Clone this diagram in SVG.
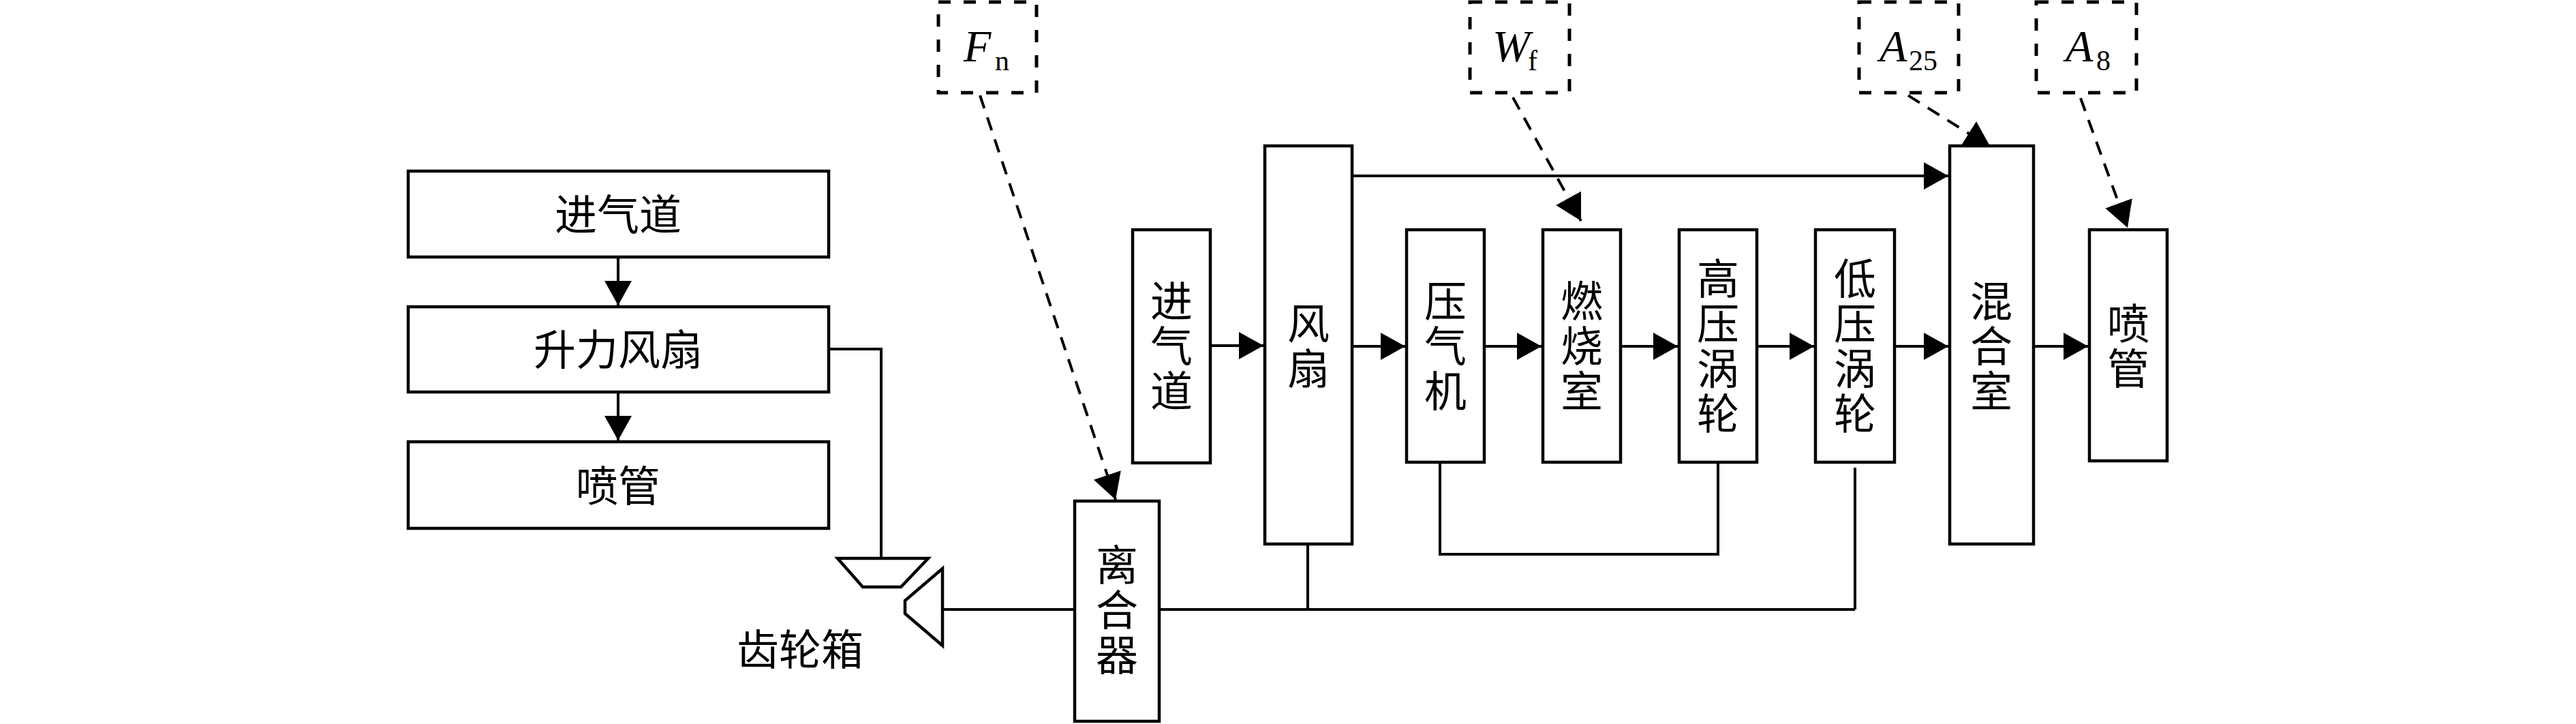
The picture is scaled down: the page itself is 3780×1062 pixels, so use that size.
<svg xmlns="http://www.w3.org/2000/svg" width="3780" height="1062" viewBox="0 0 3780 1062">
<style>
.box{fill:#fff;stroke:#000;stroke-width:4.5}
.dbox{fill:none;stroke:#000;stroke-width:5;stroke-dasharray:18 19}
.ln{fill:none;stroke:#000;stroke-width:4}
.ar{fill:none;stroke:#000;stroke-width:4;marker-end:url(#ah)}
.da{fill:none;stroke:#000;stroke-width:4;stroke-dasharray:20 14;marker-end:url(#dh)}
.cj{font-family:"Noto Sans CJK SC",sans-serif;font-size:62px;fill:#000;text-anchor:middle}
.mt{font-family:"Liberation Serif",serif;fill:#000}
.mi{font-style:italic;font-size:66px}
.sb{font-style:normal;font-size:42px}
</style>
<defs>
<marker id="ah" markerUnits="userSpaceOnUse" markerWidth="40" markerHeight="42" refX="36" refY="20" orient="auto" viewBox="0 0 40 42">
<path d="M0,0 L36,20 L0,40 Z" fill="#000"/>
</marker>
<marker id="dh" markerUnits="userSpaceOnUse" markerWidth="42" markerHeight="44" refX="38" refY="21" orient="auto" viewBox="0 0 42 44">
<path d="M0,0 L38,21 L0,42 Z" fill="#000"/>
</marker>
</defs>
<rect width="3780" height="1062" fill="#fff"/>

<g id="connectors">
<line class="ar" x1="907" y1="377" x2="907" y2="448"/>
<line class="ar" x1="907" y1="575" x2="907" y2="646"/>
<polyline class="ln" points="1216,512 1293,512 1293,819"/>
<line class="ln" x1="1383" y1="894" x2="1577" y2="894"/>
<line class="ln" x1="1701" y1="894" x2="2722" y2="894"/>
<line class="ln" x1="1919" y1="798" x2="1919" y2="894"/>
<line class="ln" x1="2722" y1="686" x2="2722" y2="894"/>
<polyline class="ln" points="2113,678 2113,813 2521,813 2521,678"/>
<line class="ar" x1="1776" y1="507" x2="1854" y2="507"/>
<line class="ar" x1="1984" y1="508" x2="2062" y2="508"/>
<line class="ar" x1="2178" y1="508" x2="2262" y2="508"/>
<line class="ar" x1="2378" y1="508" x2="2462" y2="508"/>
<line class="ar" x1="2578" y1="508" x2="2662" y2="508"/>
<line class="ar" x1="2780" y1="508" x2="2859" y2="508"/>
<line class="ar" x1="2984" y1="508" x2="3064" y2="508"/>
<line class="ar" x1="1984" y1="258" x2="2859" y2="258"/>
<line class="da" x1="1438" y1="140" x2="1637" y2="733"/>
<line class="da" x1="2220" y1="143" x2="2320" y2="324"/>
<line class="da" x1="3053" y1="144" x2="3122" y2="334"/>
<line class="da" x1="2800" y1="140" x2="2921" y2="216"/>
</g>

<g id="gearbox">
<polygon class="box" points="1229,819 1362,819 1322,861 1266,861"/>
<polygon class="box" points="1383,834 1328,881 1328,900 1383,947"/>
<text class="cj" x="1174" y="976">齿轮箱</text>
</g>

<g id="lift-inlet"><rect class="box" x="599" y="251" width="617" height="126"/><text class="cj" x="907" y="338">进气道</text></g>
<g id="lift-fan"><rect class="box" x="599" y="450" width="617" height="125"/><text class="cj" x="907" y="536">升力风扇</text></g>
<g id="lift-nozzle"><rect class="box" x="599" y="648" width="617" height="127"/><text class="cj" x="907" y="736">喷管</text></g>

<g id="clutch"><rect class="box" x="1577" y="735" width="124" height="323"/>
<text class="cj"><tspan x="1639" y="852">离</tspan><tspan x="1639" y="918">合</tspan><tspan x="1639" y="984">器</tspan></text></g>

<g id="inlet"><rect class="box" x="1662" y="337" width="114" height="342"/>
<text class="cj"><tspan x="1719" y="465">进</tspan><tspan x="1719" y="531">气</tspan><tspan x="1719" y="597">道</tspan></text></g>
<g id="fan"><rect class="box" x="1856" y="214" width="128" height="584"/>
<text class="cj"><tspan x="1920" y="498">风</tspan><tspan x="1920" y="564">扇</tspan></text></g>
<g id="compressor"><rect class="box" x="2064" y="337" width="114" height="341"/>
<text class="cj"><tspan x="2121" y="465">压</tspan><tspan x="2121" y="531">气</tspan><tspan x="2121" y="597">机</tspan></text></g>
<g id="combustor"><rect class="box" x="2264" y="337" width="114" height="341"/>
<text class="cj"><tspan x="2321" y="465">燃</tspan><tspan x="2321" y="531">烧</tspan><tspan x="2321" y="597">室</tspan></text></g>
<g id="hpt"><rect class="box" x="2464" y="337" width="114" height="341"/>
<text class="cj"><tspan x="2521" y="432">高</tspan><tspan x="2521" y="498">压</tspan><tspan x="2521" y="564">涡</tspan><tspan x="2521" y="630">轮</tspan></text></g>
<g id="lpt"><rect class="box" x="2664" y="337" width="116" height="341"/>
<text class="cj"><tspan x="2722" y="432">低</tspan><tspan x="2722" y="498">压</tspan><tspan x="2722" y="564">涡</tspan><tspan x="2722" y="630">轮</tspan></text></g>
<g id="mixer"><rect class="box" x="2861" y="214" width="123" height="584"/>
<text class="cj"><tspan x="2922" y="465">混</tspan><tspan x="2922" y="531">合</tspan><tspan x="2922" y="597">室</tspan></text></g>
<g id="nozzle"><rect class="box" x="3066" y="337" width="114" height="339"/>
<text class="cj"><tspan x="3123" y="498">喷</tspan><tspan x="3123" y="564">管</tspan></text></g>

<g id="Fn"><rect class="dbox" x="1377" y="3" width="144" height="133"/>
<text class="mt"><tspan class="mi" x="1414" y="90">F</tspan><tspan class="sb" x="1460" y="103">n</tspan></text></g>
<g id="Wf"><rect class="dbox" x="2157" y="3" width="146" height="133"/>
<text class="mt"><tspan class="mi" x="2190" y="90">W</tspan><tspan class="sb" x="2242" y="103">f</tspan></text></g>
<g id="A25"><rect class="dbox" x="2728" y="3" width="146" height="133"/>
<text class="mt"><tspan class="mi" x="2758" y="90">A</tspan><tspan class="sb" x="2801" y="103">25</tspan></text></g>
<g id="A8"><rect class="dbox" x="2988" y="3" width="147" height="133"/>
<text class="mt"><tspan class="mi" x="3031" y="90">A</tspan><tspan class="sb" x="3076" y="103">8</tspan></text></g>
</svg>
